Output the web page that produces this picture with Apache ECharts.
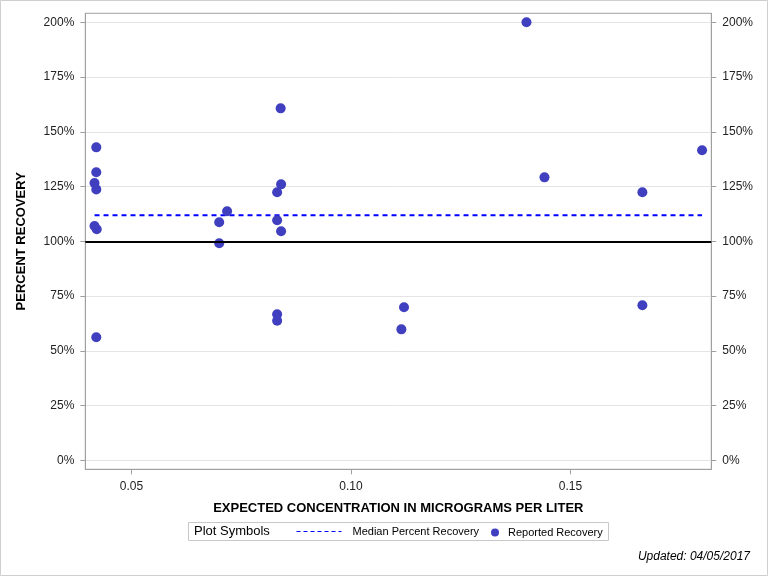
<!DOCTYPE html>
<html>
<head>
<meta charset="utf-8">
<script src="https://cdn.jsdelivr.net/npm/echarts@6/dist/echarts.min.js"></script>
<style>
  html, body { margin: 0; padding: 0; background: #fff; }
  #chart { width: 768px; height: 576px; }
</style>
</head>
<body>
<div id="chart"></div>
<script>
// expected concentration (ug/L) and reported percent recovery
var concentration = [
  0.0420, 0.0420, 0.0416, 0.0420, 0.0416, 0.0421, 0.0420,
  0.0700, 0.0718, 0.0700,
  0.0840, 0.0841, 0.0832, 0.0832, 0.0841, 0.0832, 0.0832,
  0.1115, 0.1121,
  0.1400, 0.1441,
  0.1664, 0.1664,
  0.1800
];
var recovery = [
  142.9, 131.5, 126.6, 123.7, 107.0, 105.5, 56.2,
  108.7, 113.7, 99.1,
  160.7, 126.0, 122.4, 109.6, 104.6, 66.7, 63.7,
  59.8, 69.9,
  200.0, 129.2,
  122.4, 70.8,
  141.6
];
var medianRecovery = 111.9;
var referenceRecovery = 100;
var yTicks = [0, 25, 50, 75, 100, 125, 150, 175, 200];
var xTicks = [0.05, 0.10, 0.15];
var updatedText = 'Updated: 04/05/2017';

var points = [];
for (var i = 0; i < concentration.length; i++) {
  points.push([concentration[i], recovery[i]]);
}
var xLo = Math.min.apply(null, concentration);
var xHi = Math.max.apply(null, concentration);

var font = '"Liberation Sans", Arial, sans-serif';
var frameColor = '#a0a0a0';

var chart = echarts.init(document.getElementById('chart'));

function yAxisDef(pos, withName) {
  return {
    type: 'value',
    position: pos,
    min: -4.1,
    max: 204.1,
    name: withName ? 'PERCENT RECOVERY' : '',
    nameLocation: 'middle',
    nameGap: 57,
    nameRotate: 90,
    nameMoveOverlap: false,
    nameTextStyle: { fontFamily: font, fontSize: 13, fontWeight: 'bold', color: '#000' },
    axisLine: { show: true, onZero: false, lineStyle: { color: frameColor } },
    axisTick: { show: true, length: 5, customValues: yTicks, lineStyle: { color: frameColor } },
    axisLabel: {
      customValues: yTicks,
      margin: 11,
      fontFamily: font, fontSize: 12, color: '#222',
      formatter: '{value}%'
    },
    splitLine: { show: withName, lineStyle: { color: '#e4e4e4' } }
  };
}

var option = {
  animation: false,
  backgroundColor: '#fff',
  grid: { left: 85.3, right: 56.7, top: 13.3, bottom: 106.7, show: true, borderColor: frameColor, borderWidth: 1 },
  xAxis: {
    type: 'value',
    min: 0.0395,
    max: 0.1821,
    name: 'EXPECTED CONCENTRATION IN MICROGRAMS PER LITER',
    nameLocation: 'middle',
    nameGap: 33,
    nameMoveOverlap: false,
    nameTextStyle: { fontFamily: font, fontSize: 13, fontWeight: 'bold', color: '#000' },
    axisLine: { show: true, onZero: false, lineStyle: { color: frameColor } },
    axisTick: { show: true, length: 5, customValues: xTicks, lineStyle: { color: frameColor } },
    axisLabel: {
      customValues: xTicks,
      margin: 11,
      fontFamily: font, fontSize: 12, color: '#222',
      formatter: function (v) { return v.toFixed(2); }
    },
    splitLine: { show: false }
  },
  yAxis: [yAxisDef('left', true), yAxisDef('right', false)],
  legend: [{
    data: ['Median Percent Recovery'],
    left: 296, top: 526, padding: 0,
    itemWidth: 45, itemHeight: 10, itemGap: 6,
    itemStyle: { opacity: 0 },
    lineStyle: { width: 1, color: '#0000ff', type: [4, 3] },
    textStyle: { fontFamily: font, fontSize: 11, color: '#000', padding: [0, 0, 0, 6] }
  }, {
    data: ['Reported Recovery'],
    left: 491, top: 527, padding: 0,
    itemWidth: 8, itemHeight: 8, itemGap: 6,
    textStyle: { fontFamily: font, fontSize: 11, color: '#000', padding: [0, 0, 0, 4] }
  }],
  graphic: [
    { type: 'rect', shape: { x: 0.5, y: 0.5, width: 767, height: 575 }, style: { fill: 'none', stroke: '#cfcfcf', lineWidth: 1 }, silent: true },
    { type: 'rect', shape: { x: 188.5, y: 522.5, width: 420, height: 18 }, style: { fill: 'none', stroke: '#c8c8c8', lineWidth: 1 }, silent: true },
    { type: 'text', left: 194, top: 525, style: { text: 'Plot Symbols', font: '13px ' + font, fill: '#000' }, silent: true },
    { type: 'text', right: 18, top: 551, style: { text: updatedText, font: 'italic 12px ' + font, fill: '#000' }, silent: true }
  ],
  series: [{
    name: 'Median Percent Recovery',
    type: 'line',
    z: 2,
    symbol: 'none',
    silent: true,
    color: '#0000ff',
    lineStyle: { color: '#0000ff', width: 2, type: [5, 4] },
    data: [[xLo, medianRecovery], [xHi, medianRecovery]],
    markLine: {
      silent: true,
      symbol: 'none',
      label: { show: false },
      lineStyle: { color: '#000', width: 2, type: 'solid' },
      data: [{ yAxis: referenceRecovery }]
    }
  }, {
    name: 'Reported Recovery',
    type: 'scatter',
    z: 3,
    symbol: 'circle',
    symbolSize: 10,
    itemStyle: { color: '#3f3fbf', opacity: 1 },
    data: points
  }]
};

chart.setOption(option);
</script>
</body>
</html>
